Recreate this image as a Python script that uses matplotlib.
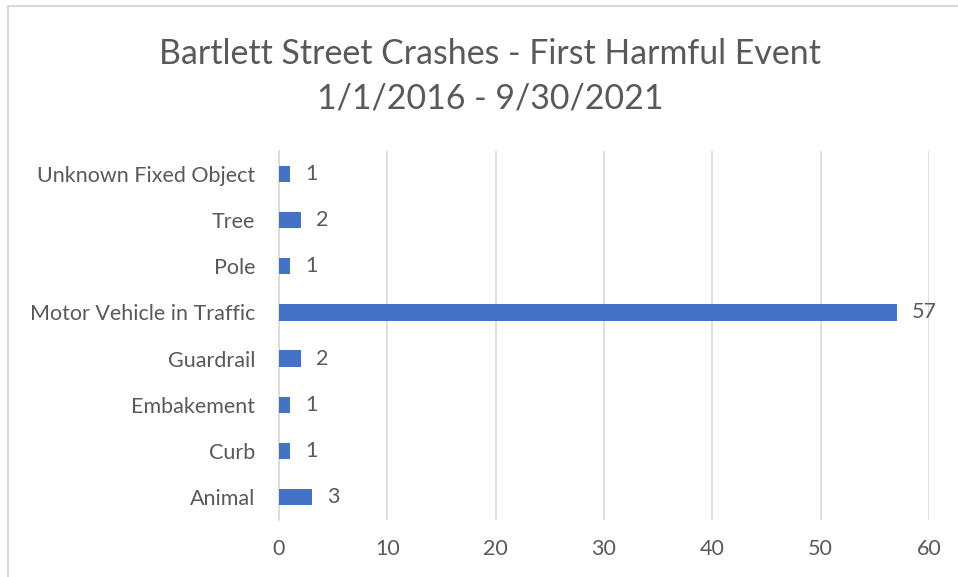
import matplotlib
matplotlib.use("Agg")
import matplotlib.pyplot as plt
from matplotlib.patches import Rectangle

# data from bottom to top
categories = ["Animal", "Curb", "Embakement", "Guardrail",
              "Motor Vehicle in Traffic", "Pole", "Tree", "Unknown Fixed Object"]
counts = [3, 1, 1, 2, 57, 1, 2, 1]
xticks = [0, 10, 20, 30, 40, 50, 60]

txt = "#595959"
grid = "#D9D9D9"
bar_col = "#4472C4"

plt.rcParams['font.family'] = ['Lato', 'DejaVu Sans']

fig = plt.figure(figsize=(9.58, 5.77), dpi=100)
ax = fig.add_axes([279/958, 1 - 520/577, 650/958, 369/577])

ypos = range(len(categories))
ax.barh(ypos, counts, height=0.35, color=bar_col, zorder=3)
for y, v in zip(ypos, counts):
    ax.text(v + 1.4, y, str(v), va='center', ha='left', fontsize=15.5, color=txt)

ax.set_xlim(0, 60)
ax.set_ylim(-0.5, len(categories) - 0.5)
ax.set_xticks(xticks)
ax.set_yticks(list(ypos))
ax.set_yticklabels(categories)
ax.tick_params(axis='both', length=0, labelsize=15.5, colors=txt)
ax.tick_params(axis='x', pad=14)
ax.tick_params(axis='y', pad=17)
ax.grid(axis='x', color=grid, linewidth=1.2, zorder=0)
for s in ['top', 'right', 'bottom']:
    ax.spines[s].set_visible(False)
ax.spines['left'].set_color(grid)
ax.spines['left'].set_linewidth(1.2)

fig.text(490/958, 1 - 76.5/577, "Bartlett Street Crashes - First Harmful Event\n1/1/2016 - 9/30/2021",
         ha='center', va='center', fontsize=24.4, color=txt, linespacing=1.5)

# chart area border
fig.patches.append(Rectangle((8/958, -0.05), 1.2, 1 - 6/577 + 0.05, transform=fig.transFigure,
                             fill=False, edgecolor=grid, linewidth=1.5))

fig.savefig("out.png", dpi=100)
